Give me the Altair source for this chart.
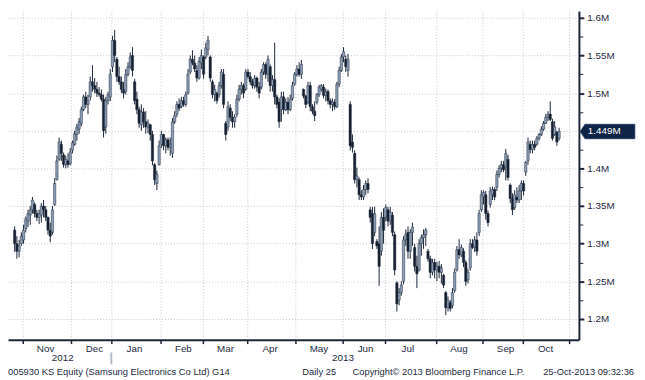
import altair as alt
import pandas as pd

# ---- daily OHLC (KRW thousands), 26-Oct-2012 .. 25-Oct-2013, one entry per trading day ----
OPEN = [1318, 1300, 1290, 1300, 1305, 1320, 1330, 1338, 1345, 1352,
        1340, 1335, 1338, 1350, 1345, 1335, 1318, 1315, 1352, 1385,
        1412, 1432, 1418, 1405, 1410, 1406, 1424, 1432, 1445, 1452,
        1460, 1478, 1495, 1485, 1495, 1515, 1510, 1505, 1500, 1498,
        1492, 1455, 1490, 1495, 1535, 1570, 1545, 1522, 1515, 1505,
        1502, 1525, 1535, 1550, 1515, 1492, 1478, 1458, 1475, 1462,
        1455, 1458, 1445, 1405, 1380, 1405, 1432, 1445, 1430, 1438,
        1428, 1420, 1462, 1472, 1485, 1482, 1490, 1485, 1500, 1528,
        1545, 1540, 1530, 1520, 1540, 1548, 1548, 1558, 1548, 1515,
        1498, 1500, 1498, 1510, 1525, 1460, 1455, 1480, 1468, 1462,
        1472, 1492, 1505, 1510, 1505, 1528, 1522, 1515, 1510, 1520,
        1508, 1508, 1528, 1538, 1525, 1535, 1510, 1518, 1495, 1488,
        1478, 1495, 1478, 1488, 1478, 1493, 1512, 1525, 1532, 1525,
        1505, 1496, 1488, 1510, 1482, 1476, 1488, 1498, 1505, 1508,
        1497, 1502, 1490, 1485, 1488, 1482, 1512, 1530, 1548, 1545,
        1530, 1485, 1435, 1420, 1385, 1385, 1365, 1362, 1372, 1380,
        1345, 1340, 1315, 1303, 1300, 1290, 1335, 1335, 1345, 1330,
        1338, 1312, 1248, 1225, 1235, 1250, 1305, 1315, 1290, 1315,
        1295, 1270, 1265, 1300, 1308, 1312, 1290, 1280, 1262, 1275,
        1265, 1270, 1262, 1258, 1235, 1215, 1222, 1218, 1238, 1265,
        1292, 1285, 1290, 1275, 1252, 1268, 1300, 1295, 1305, 1315,
        1345, 1362, 1365, 1340, 1352, 1365, 1372, 1375, 1392, 1400,
        1405, 1402, 1412, 1378, 1360, 1348, 1362, 1358, 1370, 1380,
        1395, 1410, 1432, 1425, 1432, 1432, 1440, 1445, 1452, 1460,
        1468, 1472, 1462, 1445, 1448, 1440]
HIGH = [1323, 1310, 1305, 1315, 1325, 1336, 1345, 1350, 1362, 1355,
        1345, 1345, 1354, 1358, 1350, 1336, 1328, 1350, 1387, 1417,
        1441, 1437, 1421, 1417, 1420, 1427, 1437, 1450, 1459, 1467,
        1482, 1498, 1502, 1498, 1522, 1537, 1520, 1515, 1508, 1505,
        1498, 1495, 1502, 1532, 1576, 1584, 1548, 1535, 1522, 1515,
        1532, 1541, 1554, 1561, 1519, 1502, 1482, 1485, 1480, 1476,
        1465, 1459, 1450, 1407, 1397, 1437, 1450, 1446, 1441, 1441,
        1441, 1467, 1476, 1489, 1493, 1495, 1495, 1502, 1532, 1550,
        1557, 1550, 1537, 1548, 1558, 1550, 1567, 1576, 1550, 1518,
        1511, 1502, 1515, 1532, 1532, 1463, 1489, 1485, 1476, 1472,
        1498, 1511, 1515, 1513, 1532, 1532, 1528, 1519, 1524, 1522,
        1515, 1532, 1541, 1541, 1550, 1538, 1524, 1567, 1498, 1493,
        1502, 1502, 1493, 1495, 1498, 1515, 1528, 1537, 1541, 1544,
        1506, 1498, 1515, 1515, 1485, 1489, 1500, 1511, 1512, 1512,
        1506, 1505, 1493, 1493, 1492, 1515, 1535, 1552, 1561, 1550,
        1552, 1489, 1445, 1424, 1401, 1388, 1371, 1378, 1384, 1387,
        1349, 1349, 1349, 1306, 1323, 1342, 1347, 1352, 1349, 1349,
        1342, 1316, 1250, 1241, 1250, 1310, 1319, 1323, 1319, 1328,
        1300, 1284, 1306, 1312, 1319, 1321, 1293, 1284, 1280, 1280,
        1276, 1277, 1273, 1260, 1237, 1230, 1225, 1241, 1267, 1297,
        1306, 1299, 1294, 1278, 1267, 1306, 1306, 1310, 1315, 1345,
        1371, 1371, 1370, 1344, 1375, 1376, 1375, 1397, 1404, 1410,
        1410, 1426, 1418, 1380, 1367, 1371, 1375, 1378, 1384, 1384,
        1410, 1441, 1437, 1437, 1437, 1443, 1447, 1456, 1463, 1472,
        1476, 1489, 1466, 1463, 1450, 1454]
LOW = [1289, 1280, 1282, 1297, 1300, 1315, 1322, 1325, 1340, 1335,
       1330, 1326, 1328, 1335, 1330, 1312, 1302, 1312, 1350, 1384,
       1410, 1410, 1401, 1400, 1401, 1404, 1420, 1430, 1437, 1446,
       1456, 1476, 1480, 1472, 1490, 1502, 1500, 1495, 1495, 1489,
       1441, 1446, 1485, 1489, 1528, 1541, 1515, 1511, 1500, 1493,
       1498, 1522, 1532, 1522, 1485, 1472, 1454, 1450, 1454, 1446,
       1447, 1437, 1404, 1378, 1371, 1404, 1427, 1424, 1420, 1424,
       1417, 1414, 1459, 1468, 1476, 1480, 1482, 1482, 1498, 1525,
       1537, 1528, 1515, 1518, 1532, 1519, 1545, 1550, 1515, 1493,
       1489, 1486, 1494, 1506, 1480, 1437, 1450, 1463, 1454, 1454,
       1468, 1489, 1498, 1493, 1503, 1519, 1511, 1506, 1506, 1502,
       1493, 1505, 1524, 1519, 1515, 1502, 1502, 1485, 1480, 1454,
       1462, 1472, 1476, 1472, 1476, 1490, 1510, 1522, 1522, 1519,
       1493, 1480, 1485, 1476, 1472, 1463, 1485, 1495, 1502, 1493,
       1489, 1485, 1480, 1476, 1478, 1480, 1508, 1528, 1541, 1528,
       1522, 1424, 1421, 1380, 1375, 1358, 1358, 1358, 1365, 1367,
       1328, 1293, 1310, 1293, 1244, 1284, 1300, 1330, 1323, 1325,
       1310, 1258, 1210, 1218, 1231, 1246, 1297, 1280, 1280, 1297,
       1263, 1241, 1263, 1284, 1293, 1297, 1276, 1254, 1258, 1254,
       1250, 1254, 1247, 1241, 1205, 1210, 1210, 1214, 1235, 1263,
       1280, 1282, 1269, 1244, 1247, 1264, 1293, 1289, 1284, 1310,
       1342, 1352, 1332, 1323, 1348, 1358, 1358, 1370, 1388, 1395,
       1395, 1384, 1384, 1354, 1338, 1345, 1354, 1354, 1358, 1364,
       1390, 1405, 1420, 1420, 1424, 1430, 1437, 1443, 1450, 1459,
       1463, 1463, 1437, 1443, 1430, 1437]
CLOSE = [1300, 1290, 1297, 1310, 1318, 1333, 1340, 1345, 1358, 1340,
         1335, 1340, 1350, 1345, 1335, 1318, 1310, 1345, 1380, 1410,
         1435, 1420, 1405, 1412, 1405, 1422, 1434, 1446, 1455, 1462,
         1478, 1495, 1485, 1490, 1515, 1510, 1505, 1500, 1498, 1492,
         1450, 1490, 1498, 1525, 1570, 1550, 1522, 1515, 1505, 1500,
         1525, 1535, 1548, 1530, 1490, 1478, 1460, 1475, 1462, 1455,
         1460, 1445, 1410, 1385, 1392, 1430, 1445, 1430, 1438, 1428,
         1432, 1462, 1470, 1485, 1480, 1490, 1485, 1498, 1525, 1545,
         1540, 1532, 1520, 1542, 1550, 1525, 1560, 1570, 1520, 1498,
         1505, 1490, 1510, 1528, 1485, 1445, 1482, 1468, 1462, 1468,
         1492, 1505, 1510, 1500, 1528, 1522, 1515, 1510, 1520, 1508,
         1500, 1528, 1538, 1525, 1545, 1510, 1518, 1495, 1485, 1462,
         1495, 1478, 1488, 1478, 1492, 1510, 1525, 1532, 1525, 1538,
         1496, 1485, 1510, 1482, 1476, 1470, 1498, 1508, 1510, 1497,
         1502, 1490, 1485, 1488, 1482, 1512, 1530, 1548, 1555, 1535,
         1545, 1430, 1428, 1385, 1390, 1365, 1362, 1372, 1380, 1372,
         1335, 1300, 1340, 1297, 1270, 1335, 1318, 1348, 1330, 1342,
         1315, 1265, 1220, 1235, 1245, 1305, 1312, 1290, 1315, 1322,
         1270, 1260, 1300, 1308, 1312, 1318, 1280, 1262, 1275, 1265,
         1270, 1262, 1268, 1245, 1215, 1225, 1214, 1235, 1262, 1292,
         1285, 1295, 1275, 1250, 1262, 1300, 1295, 1305, 1290, 1340,
         1365, 1368, 1340, 1328, 1370, 1372, 1362, 1392, 1400, 1405,
         1398, 1420, 1388, 1360, 1345, 1365, 1358, 1370, 1380, 1370,
         1408, 1435, 1425, 1432, 1428, 1440, 1445, 1452, 1460, 1468,
         1472, 1465, 1440, 1455, 1435, 1449]

# month start positions (trading-day index) and names
MONTH_STARTS = [4, 26, 44, 66, 85, 105, 127, 148, 167, 190, 211, 229, 250]
MONTH_NAMES = ["Nov", "Dec", "Jan", "Feb", "Mar", "Apr", "May", "Jun",
               "Jul", "Aug", "Sep", "Oct", ""]
YEAR_CENTERS = [21.9, 148.0]
YEAR_NAMES = ["2012", "2013"]
YEAR_START = [44]
Y_MAJOR = [1200, 1250, 1300, 1350, 1400, 1450, 1500, 1550, 1600]
Y_MINOR = [1225, 1275, 1325, 1375, 1425, 1475, 1525, 1575]
LAST_PRICE = 1449
LAST_LABEL = "1.449M"

W, H = 580, 334
NAVY = "#1b2638"
TXT = "#1e2b45"
GRID = "#c3c8ce"
FONT = "Liberation Sans"

df = pd.DataFrame({"i": list(range(len(CLOSE))), "o": OPEN, "h": HIGH,
                   "l": LOW, "c": CLOSE})

xs = alt.Scale(domain=[-0.29, 252.2], nice=False, zero=False)
ys = alt.Scale(domain=[1172.5, 1609.2], nice=False, zero=False)


def case_expr(vals, names):
    e = "''"
    for v, n in reversed(list(zip(vals, names))):
        e = f"(abs(datum.value - {v}) < 0.01 ? '{n}' : {e})"
    return e


month_axis = alt.Axis(orient="bottom", values=MONTH_STARTS,
                      labelExpr=case_expr(MONTH_STARTS, MONTH_NAMES),
                      labelOffset=23, labelFlush=False, labelOverlap=False,
                      tickSize=4, tickWidth=1.5, tickColor=NAVY,
                      domainColor=NAVY, domainWidth=2,
                      grid=True, gridColor=GRID, gridDash=[1, 2], gridWidth=1,
                      labelFont=FONT, labelFontSize=10, labelColor=TXT,
                      labelPadding=0, title=None)
year_axis = alt.Axis(orient="bottom", values=YEAR_CENTERS,
                     labelExpr=case_expr(YEAR_CENTERS, YEAR_NAMES),
                     ticks=False, domain=False, grid=False,
                     labelFlush=False, labelOverlap=False,
                     labelFont=FONT, labelFontSize=10, labelColor=TXT,
                     labelPadding=13, title=None)
y_axis = alt.Axis(orient="right", values=Y_MAJOR,
                  labelExpr="datum.value == 1450 ? '' : format(datum.value / 1000, '.2~f') + 'M'",
                  tickSize=5, tickWidth=2, tickColor=NAVY,
                  domainColor=NAVY, domainWidth=2,
                  grid=True, gridColor=GRID, gridDash=[1, 2], gridWidth=1,
                  labelFont=FONT, labelFontSize=10, labelColor=TXT,
                  labelPadding=3, labelOverlap=False, title=None)
y_minor = alt.Axis(orient="right", values=Y_MINOR, labels=False,
                   tickSize=4, tickWidth=1, tickColor=NAVY,
                   domain=False, grid=False, title=None)

base = alt.Chart(df).transform_calculate(xc="datum.i + 0.5")

wicks = base.mark_rule(color=NAVY, strokeWidth=1).encode(
    x=alt.X("xc:Q", scale=xs, axis=month_axis),
    y=alt.Y("l:Q", scale=ys, axis=y_axis),
    y2="h:Q",
)
bodies = base.mark_bar(size=2.4, stroke=NAVY, strokeWidth=0.45).encode(
    x=alt.X("xc:Q", scale=xs, axis=year_axis),
    y=alt.Y("o:Q", scale=ys, axis=y_minor),
    y2="c:Q",
    fill=alt.condition("datum.c >= datum.o", alt.value("#8b9cb3"), alt.value("#16202f")),
)

tag_df = pd.DataFrame({"v": [LAST_PRICE], "label": [LAST_LABEL]})
TAG_PATH = "M-1,0L-0.82,-0.27L1,-0.27L1,0.27L-0.82,0.27Z"
tag = alt.Chart(tag_df).mark_point(shape=TAG_PATH, size=3136, filled=True,
                                   fill="#0e2548", stroke="#6f82a0",
                                   strokeWidth=0.6, opacity=1).encode(
    x=alt.value(609),
    y=alt.Y("v:Q", scale=ys, axis=None),
)
tag_text = alt.Chart(tag_df).mark_text(align="left", baseline="middle",
                                       color="white", font=FONT,
                                       fontSize=10).encode(
    x=alt.value(589),
    y=alt.Y("v:Q", scale=ys, axis=None),
    text="label:N",
)

sep = alt.Chart(pd.DataFrame({"i": YEAR_START})).mark_rule(
    color="#b3bbc7", strokeWidth=2).encode(
    x=alt.X("i:Q", scale=xs, axis=None),
    y=alt.value(H + 13),
    y2=alt.value(H + 25),
)

FOOTER = [("005930 KS Equity (Samsung Electronics Co Ltd) G14", 0, "left"),
          ("Daily 25", 299, "left"),
          ("Copyright\u00a9 2013 Bloomberg Finance L.P.", 350, "left"),
          ("25-Oct-2013 09:32:36", 636, "right")]
footers = []
for txt, px, al in FOOTER:
    footers.append(
        alt.Chart(pd.DataFrame({"t": [txt]})).mark_text(
            align=al, baseline="middle", font=FONT, fontSize=9.5,
            color=TXT).encode(x=alt.value(px), y=alt.value(H + 33), text="t:N")
    )

chart = alt.layer(wicks, bodies, tag, tag_text, sep, *footers).resolve_axis(
    x="independent", y="independent"
).properties(width=W, height=H, padding=0, background="white").configure_view(
    stroke=None
)

chart.save("out.html", embed_options={"renderer": "svg", "actions": False})
